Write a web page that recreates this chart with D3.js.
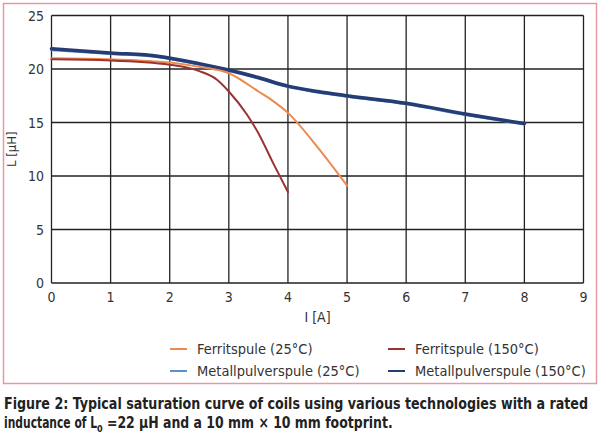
<!DOCTYPE html><html><head><meta charset="utf-8">
<script src="https://cdn.jsdelivr.net/npm/d3@7"></script>
<style>body{margin:0;background:#fff}svg{display:block}text{font-family:"DejaVu Sans Condensed","Liberation Sans",sans-serif}</style>
</head><body><svg width="600" height="445"></svg>
<script>
const xTicks=[0,1,2,3,4,5,6,7,8,9];
const yTicks=[0,5,10,15,20,25];
const ferrit25I=[0,1,2,2.5,3,3.5,3.75,4,4.5,5];
const ferrit25L=[21.0,20.9,20.6,20.2,19.6,17.9,17.0,15.9,12.7,9.1];
const ferrit150I=[0,1,2,2.5,2.8,3,3.3,3.5,3.75,4];
const ferrit150L=[20.9,20.8,20.4,19.8,19.0,17.9,15.8,14.0,11.2,8.5];
const metal25I=[0,1,1.8,2.5,3,3.5,4,4.5,5,6,7,8];
const metal25L=[21.8,21.45,21.15,20.45,19.85,19.15,18.35,17.85,17.45,16.75,15.75,14.85];
const metal150I=[0,1,1.8,2.5,3,3.5,4,4.5,5,6,7,8];
const metal150L=[21.9,21.5,21.2,20.5,19.9,19.2,18.4,17.9,17.5,16.8,15.8,14.9];
const series=[
 {name:"Ferritspule (25°C)",I:ferrit25I,L:ferrit25L,color:"#ec8a4f",w:2},
 {name:"Ferritspule (150°C)",I:ferrit150I,L:ferrit150L,color:"#9a3434",w:2},
 {name:"Metallpulverspule (25°C)",I:metal25I,L:metal25L,color:"#5b8fd2",w:3},
 {name:"Metallpulverspule (150°C)",I:metal150I,L:metal150L,color:"#263c74",w:3.5}];
const svg=d3.select("svg");
svg.append("rect").attr("x",3.5).attr("y",3.5).attr("width",593).attr("height",380).attr("fill","none").attr("stroke","#e49aa5").attr("stroke-width",1.5);
const x=d3.scaleLinear().domain([0,9]).range([51.5,583.5]);
const y=d3.scaleLinear().domain([0,25]).range([283,15.5]);
const g=svg.append("g");
g.selectAll(".vx").data(xTicks).join("line").attr("x1",d=>x(d)).attr("x2",d=>x(d)).attr("y1",y(0)).attr("y2",y(25)).attr("stroke","#222").attr("stroke-width",1.3);
g.selectAll(".hy").data(yTicks).join("line").attr("y1",d=>y(d)).attr("y2",d=>y(d)).attr("x1",x(0)).attr("x2",x(9)).attr("stroke","#222").attr("stroke-width",1.3);
g.selectAll(".xl").data(xTicks).join("text").attr("x",d=>x(d)).attr("y",302).attr("text-anchor","middle").attr("font-size",14).attr("fill","#333").text(d=>d);
g.selectAll(".yl").data(yTicks).join("text").attr("x",44).attr("y",d=>y(d)+5).attr("text-anchor","end").attr("font-size",14).attr("fill","#333").text(d=>d);
svg.append("text").attr("x",x(4.5)).attr("y",322).attr("text-anchor","middle").attr("font-size",14).attr("fill","#333").text("I [A]");
svg.append("text").attr("transform",`translate(16,${y(12.5)}) rotate(-90)`).attr("text-anchor","middle").attr("font-size",13).attr("fill","#333").text("L [µH]");
const line=d3.line().x(d=>x(d[0])).y(d=>y(d[1])).curve(d3.curveMonotoneX);
[2,3,0,1].forEach(i=>{const s=series[i];
 g.append("path").attr("d",line(s.I.map((v,j)=>[v,s.L[j]]))).attr("fill","none").attr("stroke",s.color).attr("stroke-width",s.w).attr("stroke-linecap","round");});
const lx=[170,388],ly=[349,371];
series.forEach((s,i)=>{const cx=lx[i%2],cy=ly[Math.floor(i/2)];
 svg.append("line").attr("x1",cx).attr("x2",cx+17).attr("y1",cy).attr("y2",cy).attr("stroke",s.color).attr("stroke-width",2);
 svg.append("text").attr("x",cx+27).attr("y",cy+5).attr("font-size",14.5).attr("fill","#333").text(s.name);});
svg.append("text").attr("x",4).attr("y",409).attr("font-size",15).attr("font-weight","bold").attr("fill","#222")
 .attr("textLength",584).attr("lengthAdjust","spacingAndGlyphs")
 .text("Figure 2: Typical saturation curve of coils using various technologies with a rated");
const cap=svg.append("text").attr("font-size",15).attr("font-weight","bold").attr("fill","#222");
cap.append("tspan").attr("x",4).attr("y",428).attr("textLength",93).attr("lengthAdjust","spacingAndGlyphs").text("inductance of L");
cap.append("tspan").attr("font-size",9).attr("dy",4).text("0");
cap.append("tspan").attr("dy",-4).attr("textLength",290).attr("lengthAdjust","spacingAndGlyphs").text(" =22 µH and a 10 mm × 10 mm footprint.");
</script></body></html>
